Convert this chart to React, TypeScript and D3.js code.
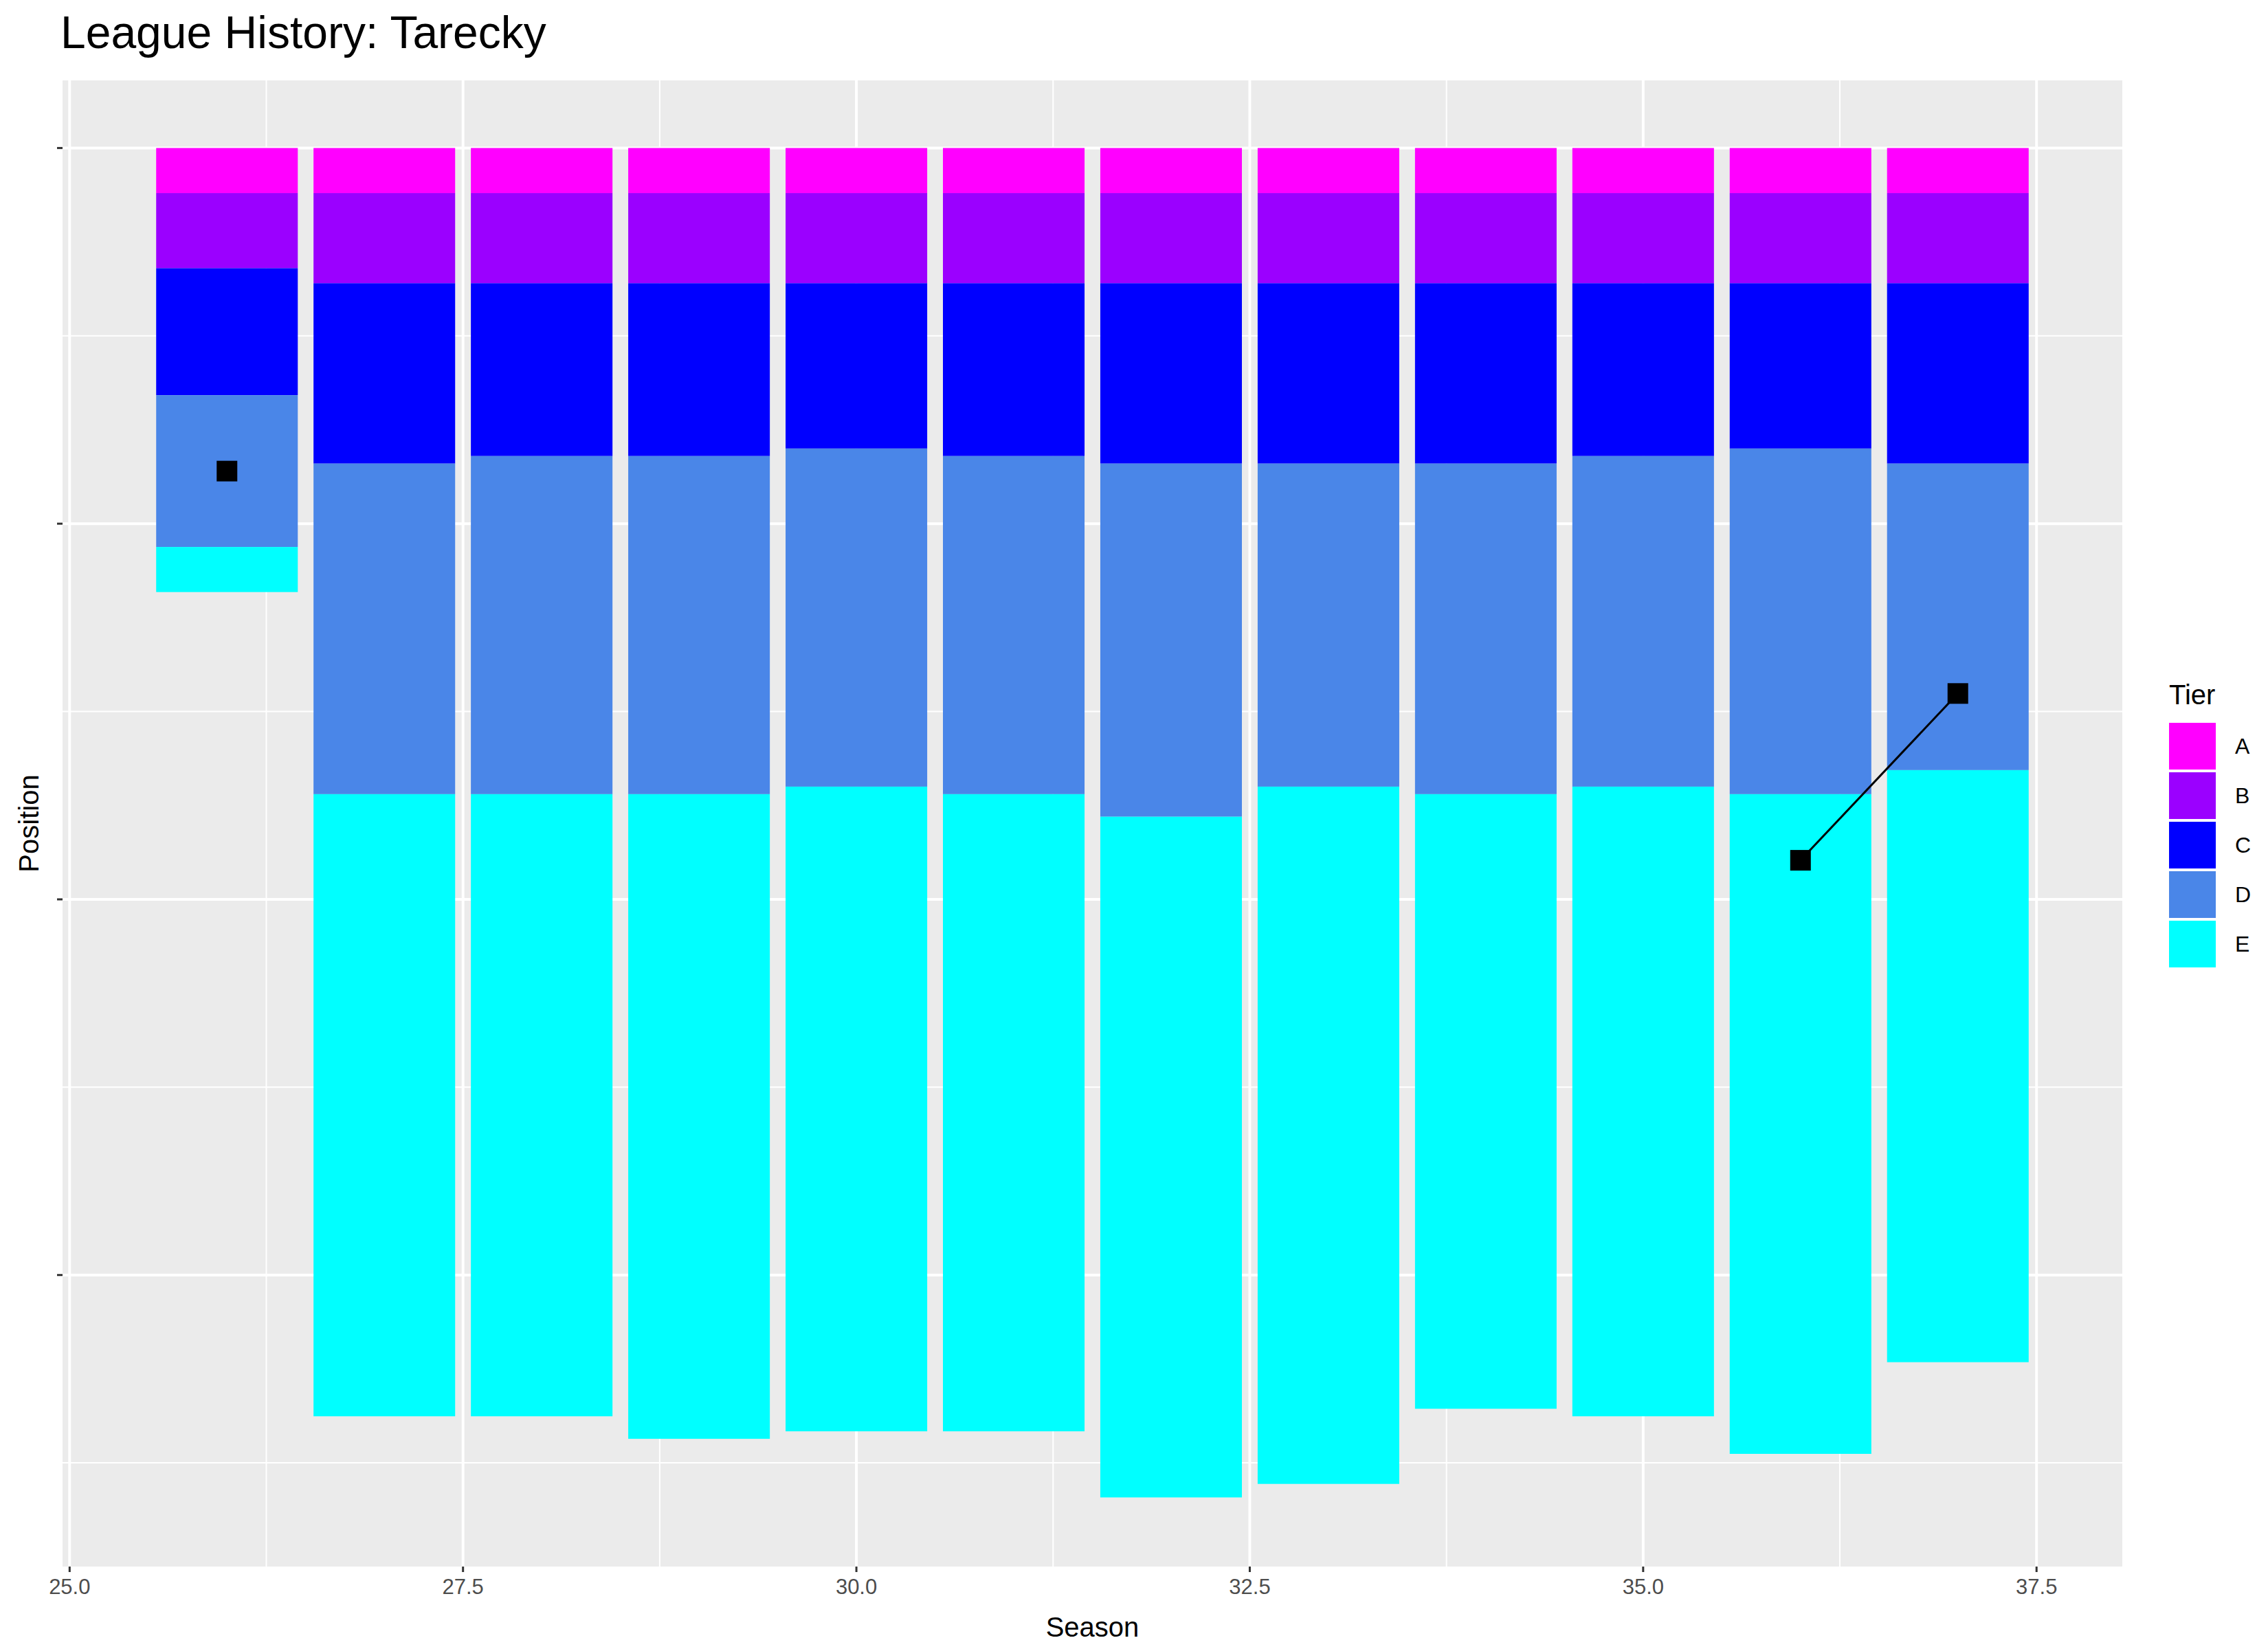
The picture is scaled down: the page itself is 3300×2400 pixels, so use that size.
import React from "react";
import * as d3 from "d3";

const seasons = [26, 27, 28, 29, 30, 31, 32, 33, 34, 35, 36, 37];
const tiers = ["A", "B", "C", "D", "E"];
const tierColors = ["#FF00FF", "#9B00FF", "#0000FF", "#4A86E8", "#00FFFF"];
const sizeA = [3, 3, 3, 3, 3, 3, 3, 3, 3, 3, 3, 3];
const sizeB = [5, 6, 6, 6, 6, 6, 6, 6, 6, 6, 6, 6];
const sizeC = [8.45, 12, 11.5, 11.5, 11, 11.5, 12, 12, 12, 11.5, 11, 12];
const sizeD = [10.1, 22, 22.5, 22.5, 22.5, 22.5, 23.5, 21.5, 22, 22, 23, 20.4];
const sizeE = [3, 41.4, 41.4, 42.9, 42.9, 42.4, 45.3, 46.4, 40.9, 41.9, 43.9, 39.4];
const positionSeasons = [26, 36, 37];
const positionValues = [21.5, 47.4, 36.3];
const xTicks = [25, 27.5, 30, 32.5, 35, 37.5];
const yTicks = [0, 25, 50, 75];
const yMinor = [12.5, 37.5, 62.5, 87.5];

const W = 3300, H = 2400;
const P = { l: 91, r: 3088, t: 117, b: 2280 };
const font = "Liberation Sans, Arial, sans-serif";

export default function App() {
  const x = d3.scaleLinear().domain([24.955, 38.045]).range([P.l, P.r]);
  const y = d3.scaleLinear().domain([-4.5, 94.4]).range([P.t, P.b]);
  const sizes = [sizeA, sizeB, sizeC, sizeD, sizeE];
  const bw = x(0.9) - x(0);
  const rects: any[] = [];
  seasons.forEach((s, i) => {
    let cum = 0;
    sizes.forEach((arr, k) => {
      const v = arr[i];
      rects.push(
        <rect key={`${s}-${k}`} x={x(s - 0.45)} width={bw} y={y(cum)} height={y(cum + v) - y(cum)} fill={tierColors[k]} />
      );
      cum += v;
    });
  });
  const xMinor = xTicks.slice(0, -1).map((t) => t + 1.25);
  const line = d3.line<number>().x((_, i) => x(positionSeasons[i + 1])).y((v) => y(v));
  const ps = 30;
  return (
    <svg width={W} height={H} style={{ position: "absolute", left: 0, top: 0 }} fontFamily={font}>
      <rect width={W} height={H} fill="white" />
      <rect x={P.l} y={P.t} width={P.r - P.l} height={P.b - P.t} fill="#EBEBEB" />
      {yMinor.map((t) => <line key={"ym" + t} x1={P.l} x2={P.r} y1={y(t)} y2={y(t)} stroke="white" strokeWidth={2} />)}
      {xMinor.map((t) => <line key={"xm" + t} y1={P.t} y2={P.b} x1={x(t)} x2={x(t)} stroke="white" strokeWidth={2} />)}
      {yTicks.map((t) => <line key={"y" + t} x1={P.l} x2={P.r} y1={y(t)} y2={y(t)} stroke="white" strokeWidth={4} />)}
      {xTicks.map((t) => <line key={"x" + t} y1={P.t} y2={P.b} x1={x(t)} x2={x(t)} stroke="white" strokeWidth={4} />)}
      {rects}
      <path d={line(positionValues.slice(1)) || ""} stroke="black" strokeWidth={3} fill="none" />
      {positionSeasons.map((s, i) => (
        <rect key={"p" + s} x={x(s) - ps / 2} y={y(positionValues[i]) - ps / 2} width={ps} height={ps} fill="black" />
      ))}
      {yTicks.map((t) => <line key={"yt" + t} x1={P.l - 8} x2={P.l} y1={y(t)} y2={y(t)} stroke="#333" strokeWidth={3} />)}
      {xTicks.map((t) => (
        <g key={"xt" + t}>
          <line y1={P.b} y2={P.b + 8} x1={x(t)} x2={x(t)} stroke="#333" strokeWidth={3} />
          <text x={x(t)} y={P.b + 40} textAnchor="middle" fontSize={31} fill="#4D4D4D">{t.toFixed(1)}</text>
        </g>
      ))}
      <text x={(P.l + P.r) / 2} y={2382} textAnchor="middle" fontSize={40}>Season</text>
      <text transform={`translate(56,${(P.t + P.b) / 2}) rotate(-90)`} textAnchor="middle" fontSize={40}>Position</text>
      <text x={88} y={70} fontSize={66}>League History: Tarecky</text>
      <text x={3156} y={1025} fontSize={40}>Tier</text>
      {tiers.map((t, i) => (
        <g key={"lg" + t}>
          <rect x={3156} y={1052 + i * 72} width={68} height={68} fill={tierColors[i]} />
          <text x={3252} y={1086 + i * 72 + 11} fontSize={32}>{t}</text>
        </g>
      ))}
    </svg>
  );
}
